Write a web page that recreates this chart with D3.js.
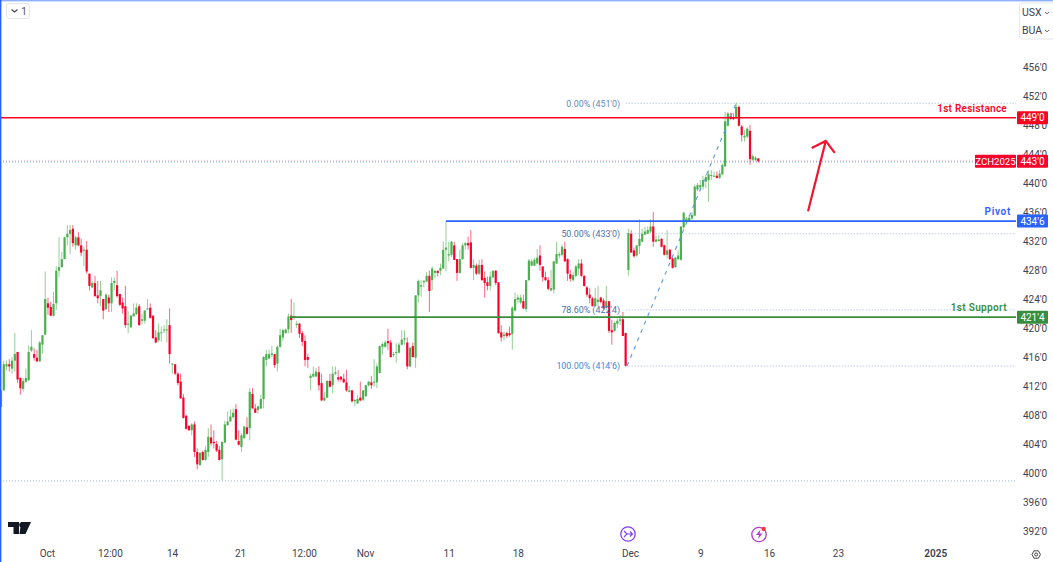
<!DOCTYPE html>
<html><head><meta charset="utf-8">
<script src="https://cdnjs.cloudflare.com/ajax/libs/d3/7.8.5/d3.min.js"></script>
<style>
html,body{margin:0;padding:0;background:#fff;overflow:hidden}
svg{display:block}
text{font-family:Roboto,"Open Sans",sans-serif}
</style></head><body><svg id="c" width="1053" height="562"></svg>
<script>
// One letter per bar: G = up, R = down
const directions = ("GGGRGGRRGG GGRRGGGRRG GGGGGGRGRR GRRGRRGRGR GGRRRRGGGG RGGGRRRGGG GRGRRRRRRG RRGRGGRRRR " +
"GGGGGRRGGR GRRGGGGGGR GGGGGRGGRR RRGGGRRGGR GGRRRRGRGG RGGGRGGGGG RRGGGGGRGR GGGGGRGGRG " +
"GGGGRRGGGR RGRGRRRGGR RRGRRGGGGR GGGGGRRRRG GGGGRRRGGG RRRRRGGRRG RRGGGRRGRR GGGGGGRGGR " +
"RGRRGGGGGG GGGGGGGGGR GGGGRRGRRG GRGGR").replace(/ /g,"").split("");
const upperBody = [
411.4,415.0,415.0,415.0,415.5,416.4,416.7,413.1,412.7,413.1,
416.7,417.4,416.4,415.9,418.0,419.0,424.0,423.4,422.9,423.3,
427.9,428.4,429.5,432.5,433.0,433.5,433.7,432.5,432.5,431.4,
430.8,430.8,427.5,426.2,426.2,424.5,425.2,424.0,424.6,424.2,
426.2,426.5,425.9,424.7,423.5,423.0,420.6,421.7,422.0,422.8,
423.0,421.2,422.4,422.7,422.8,421.7,418.7,419.4,419.4,419.8,
419.8,420.4,415.1,415.0,413.7,412.6,410.4,407.9,406.5,406.7,
406.7,402.9,402.8,402.9,403.2,405.0,404.9,404.3,404.0,403.2,
404.3,406.7,407.1,407.8,408.3,408.8,404.4,405.2,406.4,406.3,
411.2,410.9,408.9,409.2,410.2,416.0,416.4,416.4,416.5,416.4,
417.4,419.0,419.7,419.8,421.6,421.7,421.6,420.6,420.6,419.3,
418.2,416.0,413.4,413.7,414.0,413.9,412.4,410.4,412.7,412.7,
413.7,413.9,413.2,413.3,413.0,412.5,411.4,411.4,410.1,410.2,
410.4,411.4,412.1,412.6,412.5,412.6,414.7,417.5,417.8,418.0,
418.2,418.0,416.4,416.7,417.7,418.4,418.6,418.0,417.3,417.5,
424.5,426.5,425.9,426.5,427.2,427.2,428.2,427.9,427.9,428.3,
430.8,431.1,430.2,431.9,431.4,429.5,429.5,431.4,431.7,431.7,
431.8,428.7,428.6,428.7,428.7,426.9,426.3,427.1,427.9,427.9,
426.3,419.4,419.1,419.3,419.3,422.8,424.0,424.2,424.2,423.7,
426.6,429.3,429.2,429.4,429.7,430.0,428.5,427.0,426.6,425.5,
429.2,430.2,430.2,431.2,430.9,429.5,427.4,427.3,428.5,428.9,
428.9,427.2,425.6,424.6,424.1,424.1,423.9,424.2,423.8,423.7,
423.7,419.7,420.7,421.0,421.2,421.2,419.3,433.1,433.0,430.7,
431.4,432.3,433.0,433.3,433.5,434.0,434.0,432.2,432.2,432.3,
431.4,430.7,430.8,429.6,429.7,430.0,434.0,435.9,435.1,435.2,
435.6,439.5,439.7,439.7,440.4,440.8,441.2,441.1,441.0,441.0,
441.3,442.5,448.5,449.6,449.2,449.1,450.5,450.5,447.8,446.5,
447.5,447.2,443.7,443.5,443.4];
const lowerBody = [
409.1,411.4,414.7,414.7,414.4,415.5,412.9,411.7,411.6,412.6,
412.8,416.9,415.9,415.4,415.4,417.7,419.1,422.8,421.7,421.7,
423.4,427.9,428.4,429.5,432.5,433.0,431.7,431.4,431.4,430.4,
430.7,427.8,425.8,425.6,424.4,424.1,424.4,422.4,422.6,423.4,
423.4,426.2,424.4,423.2,422.7,420.4,420.5,420.1,421.6,421.9,
420.4,421.0,421.0,422.6,421.4,418.6,418.0,418.3,419.3,419.7,
419.7,416.4,415.0,413.7,412.4,410.3,407.6,406.1,405.9,405.9,
402.9,401.2,401.1,401.8,401.8,402.9,404.1,404.1,403.1,401.8,
401.9,404.2,406.6,407.1,407.7,404.6,403.9,403.6,404.8,405.4,
406.2,408.9,408.3,408.7,408.9,410.2,415.6,415.8,416.3,414.9,
415.1,417.4,418.7,419.3,419.8,421.1,421.5,420.4,419.2,418.1,
415.6,415.6,413.1,413.3,413.3,412.1,410.0,410.0,410.4,411.9,
412.1,413.7,412.9,412.9,412.5,411.4,411.2,409.9,409.9,409.6,
410.0,410.1,410.6,412.1,412.1,412.5,412.5,413.8,417.4,417.4,
417.9,416.0,416.3,416.6,416.6,417.7,418.4,414.7,414.7,416.0,
415.9,424.5,425.7,426.3,426.4,425.1,426.6,427.6,427.6,427.9,
428.2,430.8,430.0,430.1,429.4,427.6,427.6,429.5,431.4,431.4,
428.3,428.3,427.5,427.5,426.6,426.2,425.8,425.8,427.0,426.2,
419.3,418.7,418.9,418.9,419.0,419.2,422.4,423.9,423.5,422.7,
422.6,426.6,428.6,428.6,428.9,428.7,427.0,426.6,425.4,425.2,
425.3,428.9,430.0,430.1,429.2,427.5,426.8,426.6,427.2,428.2,
427.2,425.8,424.6,424.1,423.0,423.0,423.6,423.6,422.7,422.8,
419.6,419.4,419.6,420.6,421.0,418.9,414.8,428.0,430.4,429.9,
430.0,431.3,431.9,432.9,433.0,433.3,431.9,431.9,432.0,431.2,
430.1,430.1,429.5,428.3,428.4,429.5,429.4,433.9,434.6,434.7,
435.1,435.5,439.1,439.4,439.5,440.2,440.4,441.0,440.9,440.7,
440.7,441.2,442.3,447.9,448.8,448.8,448.9,447.9,446.6,446.3,
446.4,443.3,443.2,443.2,443.0];
const highs = [
411.4,415.5,415.5,415.7,416.0,419.3,416.7,413.2,413.1,414.4,
417.6,419.7,417.2,417.0,418.2,419.0,427.8,424.2,423.6,425.0,
428.5,432.5,430.5,432.6,434.2,434.2,434.2,432.7,433.2,432.3,
431.2,432.0,427.5,426.5,427.2,426.5,426.5,424.0,424.8,424.6,
427.0,427.0,427.9,424.7,424.2,425.8,422.3,421.8,423.4,423.4,
423.3,422.0,422.5,424.0,423.4,421.7,419.7,420.6,420.2,420.4,
421.2,422.7,415.1,415.0,413.9,413.7,410.9,408.0,406.6,406.9,
407.1,403.4,402.8,403.1,403.7,406.2,406.7,405.9,404.4,403.7,
404.3,407.2,408.5,408.8,408.9,409.5,405.9,405.5,406.5,407.7,
411.7,411.7,409.5,409.2,410.8,416.1,417.0,417.0,417.5,416.4,
417.6,419.9,419.9,419.9,422.0,424.0,423.5,421.0,420.7,419.6,
419.0,416.4,413.7,414.7,414.5,414.7,413.7,411.2,412.8,413.7,
414.7,414.7,414.2,413.3,413.7,414.2,412.0,411.4,410.1,410.8,
412.6,411.4,412.2,412.7,413.4,415.7,415.1,417.6,418.0,418.3,
419.9,418.4,416.7,417.9,418.0,419.7,419.7,418.7,417.3,418.0,
424.5,426.7,426.6,426.6,427.7,427.9,428.5,427.9,427.9,428.9,
431.9,434.7,431.9,432.0,431.9,429.5,430.8,431.7,431.9,432.6,
433.5,429.5,428.9,429.4,429.5,427.8,427.1,427.8,427.9,428.0,
426.3,420.4,419.5,419.5,420.2,423.0,424.9,424.6,424.6,424.6,
426.6,429.5,429.5,429.7,430.9,431.4,428.5,427.8,427.0,428.0,
429.2,431.9,430.5,431.5,431.9,429.6,428.0,427.8,428.7,429.5,
429.5,427.3,425.8,425.5,424.3,425.5,425.8,424.3,424.1,425.8,
423.7,421.1,420.9,421.3,421.8,422.2,419.4,433.7,433.5,431.1,
431.4,435.0,433.7,434.0,434.0,435.0,436.0,432.7,432.8,432.4,
431.5,433.5,430.9,429.7,429.8,430.7,434.0,436.0,435.3,435.6,
436.0,439.8,440.0,440.4,441.0,441.1,441.8,441.8,441.6,441.6,
441.8,442.7,449.8,449.8,449.7,449.6,451.1,450.7,448.0,447.3,
447.7,448.0,444.0,443.7,443.4];
const lows = [
409.1,411.3,414.2,414.0,413.7,414.0,412.4,410.8,411.2,412.4,
412.7,416.7,415.5,415.3,415.3,416.5,419.0,421.8,421.6,421.6,
422.5,427.0,428.3,429.5,431.4,430.2,431.2,430.8,431.3,429.9,
428.5,427.5,425.2,425.5,424.3,423.4,423.0,421.2,422.5,422.2,
422.2,425.2,424.2,423.0,422.0,420.0,419.3,420.0,421.6,421.8,
420.3,420.5,420.6,422.5,421.3,418.5,417.9,418.1,418.1,419.3,
418.0,415.1,413.7,413.5,412.1,410.2,407.5,406.0,405.8,405.2,
402.2,400.5,401.0,401.7,401.7,402.2,403.8,403.4,402.9,401.7,
399.0,404.1,406.5,407.1,407.5,404.5,403.8,402.9,404.7,405.3,
404.5,408.9,408.3,408.2,408.8,408.9,414.7,415.7,416.0,414.5,
414.0,417.3,418.2,419.2,419.3,419.3,421.1,420.0,418.6,417.5,
414.7,414.5,411.4,413.2,413.3,411.4,410.0,409.9,410.3,411.8,
411.0,413.5,412.6,412.6,412.4,411.2,411.1,409.7,409.2,409.5,
409.9,409.9,410.5,411.9,411.6,411.9,411.7,413.7,416.3,417.3,
417.0,415.9,416.0,415.2,416.5,417.6,417.7,414.3,414.6,415.9,
414.5,423.5,424.3,425.6,426.3,422.2,425.2,426.9,427.1,427.3,
428.1,427.8,429.2,429.8,429.4,426.5,427.5,429.4,430.8,430.8,
428.2,426.6,427.3,427.3,426.5,424.2,425.2,425.2,426.9,425.9,
419.2,418.1,418.3,418.6,418.8,417.0,422.3,423.4,423.3,422.6,
422.2,426.5,428.5,428.5,428.8,427.9,426.4,426.5,425.2,425.0,
424.8,428.8,429.6,429.9,429.1,426.5,426.4,426.4,427.0,427.3,
427.0,425.7,424.3,423.4,423.0,423.0,423.0,423.4,422.5,422.5,
419.3,417.7,419.5,420.0,420.4,418.9,414.7,427.2,430.4,429.7,
429.8,430.2,431.8,432.8,433.0,433.1,431.2,431.8,431.9,431.1,
430.0,429.6,429.4,428.2,428.3,429.4,429.3,433.7,434.4,434.6,
434.9,435.4,438.9,439.0,439.1,439.3,437.4,440.4,440.8,440.6,
440.6,441.1,442.2,447.8,448.8,448.7,448.8,447.8,445.7,445.7,
446.2,442.5,443.0,443.0,442.8];

const priceTicks = [456,452,448,444,440,436,432,428,424,420,416,412,408,404,400,396,392];
const timeTickBars = [16.6,39.4,61.9,86.5,109.6,131.7,162,187,227.6,253,277.9,302.8,338];
const timeTickLabels = ["Oct","12:00","14","21","12:00","Nov","11","18","Dec","9","16","23","2025"];

const levels = [
 {name:"1st Resistance", price:449,   tag:"449'0", color:"#f7071f", start:-1,  width:1.4, spacing:0.25, textColor:"#f7071f"},
 {name:"Pivot",          price:434.75,tag:"434'6", color:"#2962ff", start:161, width:1.7, spacing:0.7,  textColor:"#2962ff"},
 {name:"1st Support",    price:421.5, tag:"421'4", color:"#388e3c", start:104.5,width:1.7, spacing:0.35, textColor:"#388e3c"}];
const fibLevels = [
 {label:"0.00% (451'0)",   price:451,    color:"#6389c2"},
 {label:"50.00% (433'0)",  price:433,    color:"#4672b0"},
 {label:"78.60% (422'4)",  price:422.5,  color:"#4672b0"},
 {label:"100.00% (414'6)", price:414.75, color:"#3f87dd"}];
const fibStartBar = 226, trendFrom = {bar:226.5, price:414.75}, trendTo = {bar:266, price:451};
const arrowFrom = {bar:292, price:436.1}, arrowTo = {bar:298.4, price:445.8};
const lastPrice = 443, bottomLevel = 398.9;

const W=1053,H=562, plotR=1016;
const svg=d3.select("#c");
const x=d3.scaleLinear().domain([0,274]).range([1,758.3]);
const y=d3.scaleLinear().domain([392,456]).range([531,67]);
const GREEN="#4caf50", RED="#f7022a";

// reference dotted lines
const dotted=svg.append("g");
dotted.append("line").attr("x1",0).attr("x2",plotR).attr("y1",y(bottomLevel)).attr("y2",y(bottomLevel))
  .attr("stroke","#9db4de").attr("stroke-dasharray","1 2");
dotted.append("line").attr("x1",0).attr("x2",975).attr("y1",y(lastPrice)-.9).attr("y2",y(lastPrice)-.9)
  .attr("stroke","#f9c6cb").attr("stroke-dasharray","1 2");
dotted.append("line").attr("x1",0).attr("x2",plotR).attr("y1",y(lastPrice)+.6).attr("y2",y(lastPrice)+.6)
  .attr("stroke","#6f92e8").attr("stroke-dasharray","1 2");
dotted.selectAll("line.fib").data(fibLevels).join("line").attr("class","fib")
  .attr("x1",x(fibStartBar)).attr("x2",plotR).attr("y1",d=>y(d.price)).attr("y2",d=>y(d.price))
  .attr("stroke","#9db4de").attr("stroke-dasharray","1 2");

// candles
const bars=directions.map((dir,i)=>({i,dir,top:upperBody[i],bot:lowerBody[i],hi:highs[i],lo:lows[i]}));
const cg=svg.append("g");
cg.selectAll("line").data(bars).join("line")
  .attr("x1",d=>x(d.i)).attr("x2",d=>x(d.i)).attr("y1",d=>y(d.hi)).attr("y2",d=>y(d.lo))
  .attr("stroke",d=>d.dir==="G"?GREEN:RED).attr("stroke-width",1).attr("stroke-opacity",.6);
cg.selectAll("rect").data(bars).join("rect")
  .attr("x",d=>x(d.i)-1.1).attr("width",2.2)
  .attr("y",d=>y(d.top)).attr("height",d=>Math.max(1,y(d.bot)-y(d.top)))
  .attr("fill",d=>d.dir==="G"?GREEN:RED);

// fib trend line
svg.append("line").attr("x1",x(trendFrom.bar)).attr("y1",y(trendFrom.price))
  .attr("x2",x(trendTo.bar)).attr("y2",y(trendTo.price))
  .attr("stroke","#5b9be0").attr("stroke-width",1.1).attr("stroke-dasharray","4 5");

// fib labels
svg.selectAll("text.fib").data(fibLevels).join("text").attr("class","fib")
  .attr("x",620).attr("y",d=>y(d.price)+.3).attr("dy","0.35em").attr("text-anchor","end")
  .attr("font-size",8.9).attr("fill",d=>d.color).text(d=>d.label);

// levels
levels.forEach(l=>{
  const ly=y(l.price);
  svg.append("line").attr("x1",Math.max(0,x(l.start))).attr("x2",plotR).attr("y1",ly).attr("y2",ly)
    .attr("stroke",l.color).attr("stroke-width",l.width);
  svg.append("text").attr("x",l.name==="Pivot"?1011:1007).attr("y",ly-6).attr("text-anchor","end")
    .attr("font-size",10).attr("font-weight",600).attr("letter-spacing",l.spacing).attr("fill",l.textColor).text(l.name);
});

// arrow
const ax=x(arrowFrom.bar),ay=y(arrowFrom.price),bx=x(arrowTo.bar),by=y(arrowTo.price);
svg.append("line").attr("x1",ax).attr("y1",ay).attr("x2",bx).attr("y2",by)
  .attr("stroke","#f0142e").attr("stroke-width",2.2);
svg.append("path").attr("d",`M${bx-14},${by+7}L${bx},${by}L${bx+9},${by+12}`)
  .attr("fill","none").attr("stroke","#f0142e").attr("stroke-width",2.2);

// price axis
const yAxis=d3.axisRight(y).tickValues(priceTicks).tickSize(0).tickPadding(0).tickFormat(d=>d+"'0");
const gy=svg.append("g").attr("transform","translate(1023,0.5)").call(yAxis);
gy.select(".domain").remove();
gy.selectAll("text").attr("font-size",10).attr("fill","#3d4250").attr("font-family",'Roboto,sans-serif');

// price tags
const tag=(x0,w,py,txt,col,fs)=>{
  svg.append("rect").attr("x",x0).attr("y",y(py)-6.5).attr("width",w).attr("height",13).attr("rx",1).attr("fill",col);
  svg.append("text").attr("x",x0+w/2).attr("y",y(py)).attr("dy","0.36em").attr("text-anchor","middle")
    .attr("font-size",fs).attr("fill","#fff").text(txt);
};
levels.forEach(l=>tag(1017,31,l.price,l.tag,l.color,10));
tag(975,41,lastPrice,"ZCH2025","#f7022a",9.6);
tag(1017,31,lastPrice,"443'0","#f7022a",10);

// time axis
const xAxis=d3.axisBottom(x).tickValues(timeTickBars).tickSize(0).tickPadding(0)
  .tickFormat(d=>timeTickLabels[timeTickBars.indexOf(d)]);
const gx=svg.append("g").attr("transform","translate(0,549.5)").call(xAxis);
gx.select(".domain").remove();
gx.selectAll("text").attr("font-size",10).attr("fill","#3d4250").attr("font-family",'Roboto,sans-serif')
  .attr("font-weight",d=>timeTickLabels[timeTickBars.indexOf(d)]==="2025"?600:400);

// chrome: borders
svg.append("rect").attr("x",0).attr("y",0).attr("width",W).attr("height",1.4).attr("fill","#8fb0fb");
svg.append("rect").attr("x",0).attr("y",0).attr("width",1.4).attr("height",H).attr("fill","#2962ff");

// top-left interval button
svg.append("rect").attr("x",6.5).attr("y",3.5).attr("width",23).attr("height",15).attr("rx",2.5).attr("fill","#fff").attr("stroke","#e6e7ea");
svg.append("path").attr("d","M11.5,9.5l3,2.5l3,-2.5").attr("fill","none").attr("stroke","#444").attr("stroke-width",1.1);
svg.append("text").attr("x",24).attr("y",15).attr("font-size",10).attr("text-anchor","middle").attr("fill","#555").text("1");

// top-right units box
svg.append("rect").attr("x",1019.5).attr("y",3).attr("width",40).attr("height",36).attr("rx",3).attr("fill","#fff").attr("stroke","#e6e7ea");
[["USX",16],["BUA",34]].forEach(([t,ty])=>{
  svg.append("text").attr("x",1022).attr("y",ty).attr("font-size",10.5).attr("fill","#3d4250").text(t);
  svg.append("path").attr("d",`M1045,${ty-4}l2,1.8l2,-1.8`).attr("fill","none").attr("stroke","#555").attr("stroke-width",.9);
});

// TradingView-style mark
svg.append("path").attr("d","M8,522H19V534H13.5V527H8ZM21,522H31L25.5,534H19.5Z").attr("fill","#131722");
svg.append("circle").attr("cx",21.5).attr("cy",525).attr("r",2.4).attr("fill","#131722");

// event icons
svg.append("circle").attr("cx",628).attr("cy",534).attr("r",7.2).attr("fill","#fff").attr("stroke","#7b3ff2").attr("stroke-width",1.3);
svg.append("path").attr("d","M624,531l3,3l-3,3M627,534h5M630,531.5l2.5,2.5l-2.5,2.5").attr("fill","none").attr("stroke","#7b3ff2").attr("stroke-width",1.1);
svg.append("circle").attr("cx",759).attr("cy",534.5).attr("r",7.2).attr("fill","#fff").attr("stroke","#b13bc9").attr("stroke-width",1.3);
svg.append("path").attr("d","M760.5,529.5L756,535h3l-1,4l4.5,-5.5h-3Z").attr("fill","#b13bc9");
svg.append("circle").attr("cx",763.7).attr("cy",529).attr("r",2.2).attr("fill","#f23645");

// settings icon
svg.append("path").attr("d","M1032,554.5l2,-3.7h4.4l2,3.7l-2,3.7h-4.4Z").attr("fill","none").attr("stroke","#333").attr("stroke-width",.9);
svg.append("circle").attr("cx",1036.2).attr("cy",554.5).attr("r",1.5).attr("fill","none").attr("stroke","#333").attr("stroke-width",.9);
</script></body></html>
